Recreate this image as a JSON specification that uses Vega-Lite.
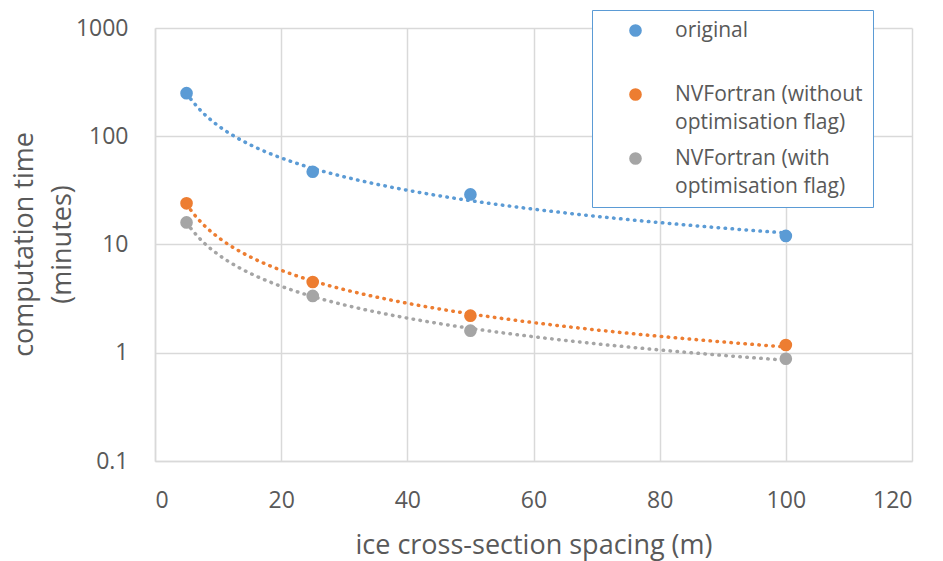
{
  "$schema": "https://vega.github.io/schema/vega-lite/v6.json",
  "width": 757,
  "height": 433,
  "autosize": "none",
  "padding": {"left": 155, "top": 28, "right": 31, "bottom": 100},
  "background": "white",
  "config": {
    "view": {"stroke": null},
    "font": "Open Sans",
    "axis": {
      "domainColor": "#d9d9d9",
      "domainWidth": 1.5,
      "gridColor": "#d9d9d9",
      "gridWidth": 1.5,
      "ticks": false,
      "labelColor": "#595959",
      "titleColor": "#595959",
      "labelFont": "Open Sans",
      "titleFont": "Open Sans",
      "labelFontSize": 23,
      "titleFontSize": 27,
      "titleFontWeight": "normal"
    }
  },
  "data": {
    "values": [
      {"series": "original", "spacing": 5, "time": 250},
      {"series": "original", "spacing": 25, "time": 47},
      {"series": "original", "spacing": 50, "time": 29},
      {"series": "original", "spacing": 100, "time": 12},
      {"series": "NVFortran (without optimisation flag)", "spacing": 5, "time": 24},
      {"series": "NVFortran (without optimisation flag)", "spacing": 25, "time": 4.5},
      {"series": "NVFortran (without optimisation flag)", "spacing": 50, "time": 2.2},
      {"series": "NVFortran (without optimisation flag)", "spacing": 100, "time": 1.18},
      {"series": "NVFortran (with optimisation flag)", "spacing": 5, "time": 16},
      {"series": "NVFortran (with optimisation flag)", "spacing": 25, "time": 3.35},
      {"series": "NVFortran (with optimisation flag)", "spacing": 50, "time": 1.6},
      {"series": "NVFortran (with optimisation flag)", "spacing": 100, "time": 0.88}
    ]
  },
  "layer": [
    {
      "transform": [
        {"filter": "datum.series == 'original'"},
        {"regression": "time", "on": "spacing", "method": "pow", "extent": [5, 100]}
      ],
      "mark": {"type": "line", "color": "#5b9bd5", "strokeWidth": 3.5, "strokeCap": "round", "strokeDash": [0.5, 6.5]},
      "encoding": {
        "x": {"field": "spacing", "type": "quantitative"},
        "y": {"field": "time", "type": "quantitative"}
      }
    },
    {
      "transform": [
        {"filter": "datum.series == 'NVFortran (without optimisation flag)'"},
        {"regression": "time", "on": "spacing", "method": "pow", "extent": [5, 100]}
      ],
      "mark": {"type": "line", "color": "#ed7d31", "strokeWidth": 3.5, "strokeCap": "round", "strokeDash": [0.5, 6.5]},
      "encoding": {
        "x": {"field": "spacing", "type": "quantitative"},
        "y": {"field": "time", "type": "quantitative"}
      }
    },
    {
      "transform": [
        {"filter": "datum.series == 'NVFortran (with optimisation flag)'"},
        {"regression": "time", "on": "spacing", "method": "pow", "extent": [5, 100]}
      ],
      "mark": {"type": "line", "color": "#a5a5a5", "strokeWidth": 3.5, "strokeCap": "round", "strokeDash": [0.5, 6.5]},
      "encoding": {
        "x": {"field": "spacing", "type": "quantitative"},
        "y": {"field": "time", "type": "quantitative"}
      }
    },
    {
      "mark": {"type": "point", "filled": true, "shape": "circle", "size": 160, "opacity": 1},
      "encoding": {
        "x": {
          "field": "spacing", "type": "quantitative",
          "scale": {"domain": [0, 120], "nice": false},
          "axis": {
            "values": [0, 20, 40, 60, 80, 100, 120],
            "title": "ice cross-section spacing (m)",
            "labelPadding": 28,
            "titleY": 92,
            "titleBaseline": "alphabetic"
          }
        },
        "y": {
          "field": "time", "type": "quantitative",
          "scale": {"type": "log", "domain": [0.1, 1000], "nice": false},
          "axis": {
            "values": [0.1, 1, 10, 100, 1000],
            "format": "~g",
            "labelPadding": 27,
            "title": ["computation time", "(minutes)"],
            "titleX": -123,
            "titleY": 216,
            "titleAngle": -90,
            "titleAlign": "center",
            "titleBaseline": "alphabetic",
            "titleLineHeight": 38
          }
        },
        "color": {
          "field": "series", "type": "nominal",
          "scale": {
            "domain": ["original", "NVFortran (without optimisation flag)", "NVFortran (with optimisation flag)"],
            "range": ["#5b9bd5", "#ed7d31", "#a5a5a5"]
          },
          "legend": {
            "title": null,
            "orient": "none",
            "legendX": 437,
            "legendY": -18,
            "fillColor": "white",
            "strokeColor": "#5b9bd5",
            "padding": 10,
            "symbolOffset": 23,
            "symbolType": "circle",
            "symbolSize": 160,
            "labelFont": "Open Sans",
            "labelFontSize": 21,
            "labelColor": "#595959",
            "labelOffset": 29,
            "labelLimit": 400,
            "rowPadding": 14,
            "labelExpr": "datum.label == 'original' ? ['original', ''] : split(replace(datum.label, ' optimisation', '|optimisation'), '|')",
            "encoding": {"labels": {"lineHeight": {"value": 28}}}
          }
        }
      }
    }
  ]
}
